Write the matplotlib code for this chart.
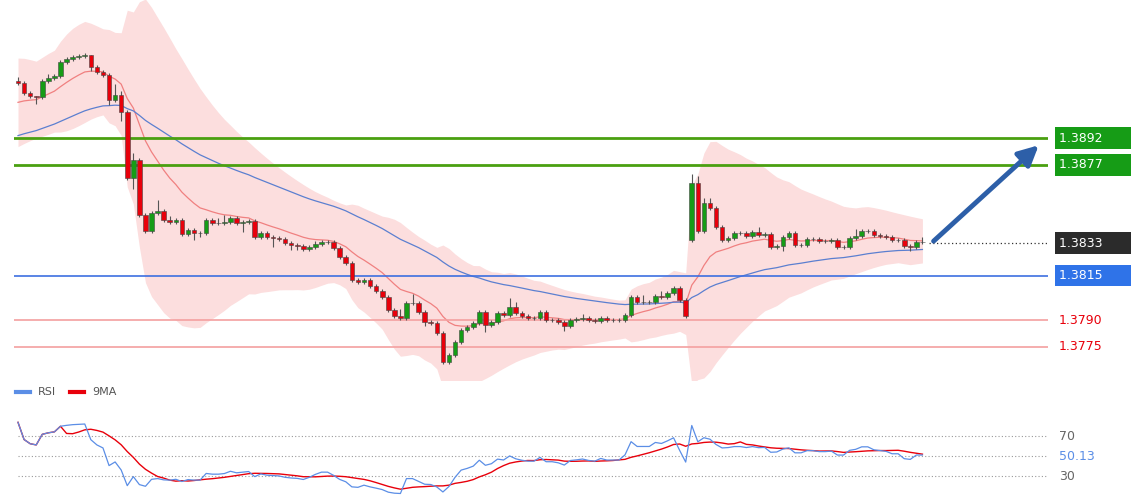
import numpy as np
import matplotlib.pyplot as plt
from matplotlib.patches import Rectangle

# closing prices, one per candle (open = previous close unless gapped)
closes = [
    1.39228, 1.39172, 1.39155, 1.39150, 1.39239, 1.39256, 1.39267, 1.39346, 1.39362, 1.39374,
    1.39379, 1.39385, 1.39318, 1.39290, 1.39273, 1.39133, 1.39161, 1.39066, 1.38696, 1.38797,
    1.38489, 1.38399, 1.38500, 1.38511, 1.38461, 1.38450, 1.38461, 1.38382, 1.38405, 1.38388,
    1.38388, 1.38461, 1.38444, 1.38444, 1.38450, 1.38472, 1.38444, 1.38450, 1.38455, 1.38366,
    1.38388, 1.38366, 1.38360, 1.38354, 1.38332, 1.38321, 1.38315, 1.38298, 1.38310, 1.38326,
    1.38338, 1.38338, 1.38304, 1.38254,
    1.38220, 1.38125, 1.38114, 1.38125, 1.38091, 1.38063, 1.38030, 1.37957, 1.37923, 1.37912,
    1.37996, 1.37996, 1.37946, 1.37890, 1.37884, 1.37828, 1.37666, 1.37705, 1.37778, 1.37845,
    1.37862, 1.37884, 1.37946, 1.37873, 1.37890, 1.37940, 1.37929, 1.37974, 1.37940, 1.37923,
    1.37912, 1.37912, 1.37946, 1.37901, 1.37901, 1.37890, 1.37867, 1.37901, 1.37906, 1.37912,
    1.37901, 1.37895, 1.37912, 1.37901, 1.37901, 1.37901, 1.37929, 1.38030, 1.38002, 1.38002,
    1.38002, 1.38035, 1.38030, 1.38052, 1.38080, 1.38013, 1.37923,
    1.38668, 1.38399, 1.38556, 1.38528, 1.38422, 1.38349, 1.38360, 1.38388, 1.38388, 1.38371,
    1.38394, 1.38377, 1.38382, 1.38310, 1.38315, 1.38366, 1.38388, 1.38321, 1.38321, 1.38354,
    1.38354, 1.38343, 1.38343, 1.38349, 1.38310, 1.38310, 1.38360, 1.38371, 1.38399, 1.38399,
    1.38377, 1.38371, 1.38366, 1.38349, 1.38349, 1.38315, 1.38310, 1.38338, 1.38338,
]
first_open = 1.39240
gap_index = 111       # weekend gap candle
gap_open = 1.38349
# wick lengths in pips above/below the body
wick_up = [2, 1, 1, 0, 1, 2, 1, 1, 1, 1, 1, 1, 0, 1, 1, 1, 6, 2, 1, 4,
           1, 1, 1, 6, 1, 2, 1, 1, 1, 1, 1, 1, 1, 3, 4, 1, 1, 1, 1, 1,
           1, 1, 1, 1, 1, 1, 1, 1, 1, 2, 1, 1, 1, 1,
           1, 1, 1, 1, 1, 1, 1, 1, 1, 4, 1, 5, 1, 1, 1, 1, 1, 1, 1, 1,
           1, 1, 1, 1, 1, 1, 1, 5, 3, 1, 1, 1, 1, 1, 1, 1, 1, 1, 1, 2,
           1, 1, 1, 1, 1, 1, 1, 1, 1, 4, 1, 1, 3, 1, 1, 1, 1,
           5, 4, 3, 3, 1, 1, 1, 1, 1, 1, 1, 3, 1, 1, 1, 1, 1, 1, 1, 1,
           1, 1, 1, 1, 1, 1, 1, 4, 1, 1, 1, 1, 1, 1, 1, 1, 1, 1, 3]
wick_dn = [1, 1, 1, 4, 1, 1, 1, 1, 1, 1, 1, 1, 2, 1, 1, 3, 1, 5, 1, 6,
           1, 1, 1, 1, 1, 1, 1, 1, 1, 4, 2, 1, 1, 1, 1, 1, 1, 5, 1, 1,
           1, 1, 5, 1, 1, 3, 2, 1, 1, 1, 1, 1, 1, 1,
           1, 1, 1, 1, 1, 1, 1, 1, 1, 1, 1, 1, 1, 2, 1, 1, 1, 1, 1, 1,
           1, 1, 1, 4, 1, 1, 1, 1, 1, 1, 1, 1, 1, 1, 1, 1, 3, 1, 1, 1,
           1, 1, 1, 1, 1, 1, 1, 1, 1, 1, 1, 1, 1, 1, 1, 1, 1,
           1, 1, 1, 1, 1, 1, 1, 1, 1, 1, 1, 1, 1, 1, 1, 3, 1, 1, 1, 1,
           1, 1, 1, 1, 1, 1, 1, 1, 1, 1, 1, 1, 1, 1, 1, 1, 2, 1, 1]

red_seed = 1.39100    # fast average value before the first candle
blue_seed = 1.38920   # slow average value before the first candle
band_seed = 0.0008    # band half-width before first candle

levels = [1.3892, 1.3877, 1.3833, 1.3815, 1.3790, 1.3775]
level_labels = ["1.3892", "1.3877", "1.3833", "1.3815", "1.3790", "1.3775"]
rsi_now = "50.13"

GREEN = "#169c16"
RED = "#e8000b"
PX = 0.000056  # price per pixel

c = np.array(closes)
n = len(c)
o = np.concatenate([[first_open], c[:-1]])
o[gap_index] = gap_open
hi = np.maximum(o, c) + np.array(wick_up) * 1e-4
lo = np.minimum(o, c) - np.array(wick_dn) * 1e-4
x = np.arange(n)


def ema(vals, span, seed):
    a = 2 / (span + 1)
    out, v = [], seed
    for p in vals:
        v = v + a * (p - v)
        out.append(v)
    return np.array(out)


red = ema(c, 12, red_seed)
blue = ema(c, 45, blue_seed)
var = ema((c - red) ** 2, 16, band_seed ** 2)
half = 2.6 * np.sqrt(var) + 0.0003
upper, lower = red + half, red - half

fig = plt.figure(figsize=(11.4, 5.0), dpi=100)
ax = fig.add_axes([14 / 1140, 1 - 380 / 500, 1034 / 1140, 380 / 500])
step = 6.07
ax.set_xlim(-4 / step, 1034 / step - 4 / step)
ax.set_ylim(1.3892 - 242 * PX, 1.3892 + 138 * PX)
ax.axis("off")

ax.fill_between(x, lower, upper, color="#fbd3d3", alpha=0.75, lw=0)
ax.plot(x, red, color="#f08080", lw=0.9)
ax.plot(x, blue, color="#5b7fd0", lw=0.9)

ax.axhline(levels[0], color="#4aa010", lw=2)
ax.axhline(levels[1], color="#4aa010", lw=2)
ax.axhline(levels[3], color="#3d6fe0", lw=1.2)
ax.axhline(levels[4], color="#f4a0a0", lw=1.2)
ax.axhline(levels[5], color="#f4a0a0", lw=1.2)

for i in range(n):
    col = GREEN if c[i] >= o[i] else RED
    ax.vlines(x[i], lo[i], hi[i], color="#555555", lw=0.8, zorder=3)
    b0, b1 = min(o[i], c[i]), max(o[i], c[i])
    ax.add_patch(Rectangle((x[i] - 0.38, b0), 0.76, max(b1 - b0, 0.00002),
                           facecolor=col, edgecolor="#444444", lw=0.4, zorder=4))

xe = 1034 / step - 4 / step
ax.plot([x[-1] + 1, xe], [levels[2]] * 2, ls=(0, (1, 2)), color="#333333", lw=0.9)
ax.annotate("", xy=(x[-1] + 19.5, 1.3889), xytext=(x[-1] + 1.5, levels[2] + 0.00002),
            arrowprops=dict(arrowstyle="-|>,head_length=1.2,head_width=0.6",
                            color="#2d5fa8", lw=3.5))

box_styles = [(GREEN, "white"), (GREEN, "white"), ("#2b2b2b", "white"),
              ("#2f73e8", "white"), (None, RED), (None, RED)]
for lv, lab, (bg, fg) in zip(levels, level_labels, box_styles):
    kw = {}
    if bg:
        kw["bbox"] = dict(boxstyle="square,pad=0.35", fc=bg, ec="none")
    ax.text(xe + 1.8, lv, lab + "      " if bg else lab, color=fg, fontsize=9,
            va="center", ha="left", clip_on=False, **kw)

# RSI panel
d = np.diff(np.concatenate([[first_open], c]))
up = ema(np.clip(d, 0, None), 27, 0.00015)
dn = ema(np.clip(-d, 0, None), 27, 0.00002)
rsi = 100 - 100 / (1 + up / dn)
rsi_ma = np.convolve(rsi, np.ones(9) / 9, mode="full")[:n]
rsi_ma[:8] = rsi[:8]

rax = fig.add_axes([14 / 1140, 1 - 495 / 500, 1034 / 1140, 100 / 500])
rax.set_xlim(ax.get_xlim())
rax.set_ylim(11, 111)
rax.axis("off")
for lv in (70, 50, 30):
    rax.plot([0, xe], [lv, lv], ls=(0, (1, 2)), color="#999999", lw=0.8)
rax.plot(x, rsi_ma, color=RED, lw=1.0)
rax.plot(x, rsi, color="#5b8ee6", lw=0.9)
rax.text(xe + 1.8, 70, "70", color="#666666", fontsize=9, va="center")
rax.text(xe + 1.8, 50, rsi_now, color="#5b8ee6", fontsize=9, va="center")
rax.text(xe + 1.8, 30, "30", color="#666666", fontsize=9, va="center")

fig.lines.append(plt.Line2D([16 / 1140, 30 / 1140], [1 - 392 / 500] * 2, color="#5b8ee6", lw=3,
                            transform=fig.transFigure))
fig.text(38 / 1140, 1 - 392 / 500, "RSI", fontsize=8, color="#555555", va="center")
fig.lines.append(plt.Line2D([70 / 1140, 84 / 1140], [1 - 392 / 500] * 2, color=RED, lw=3,
                            transform=fig.transFigure))
fig.text(92 / 1140, 1 - 392 / 500, "9MA", fontsize=8, color="#555555", va="center")

fig.savefig("out.png", dpi=100)
